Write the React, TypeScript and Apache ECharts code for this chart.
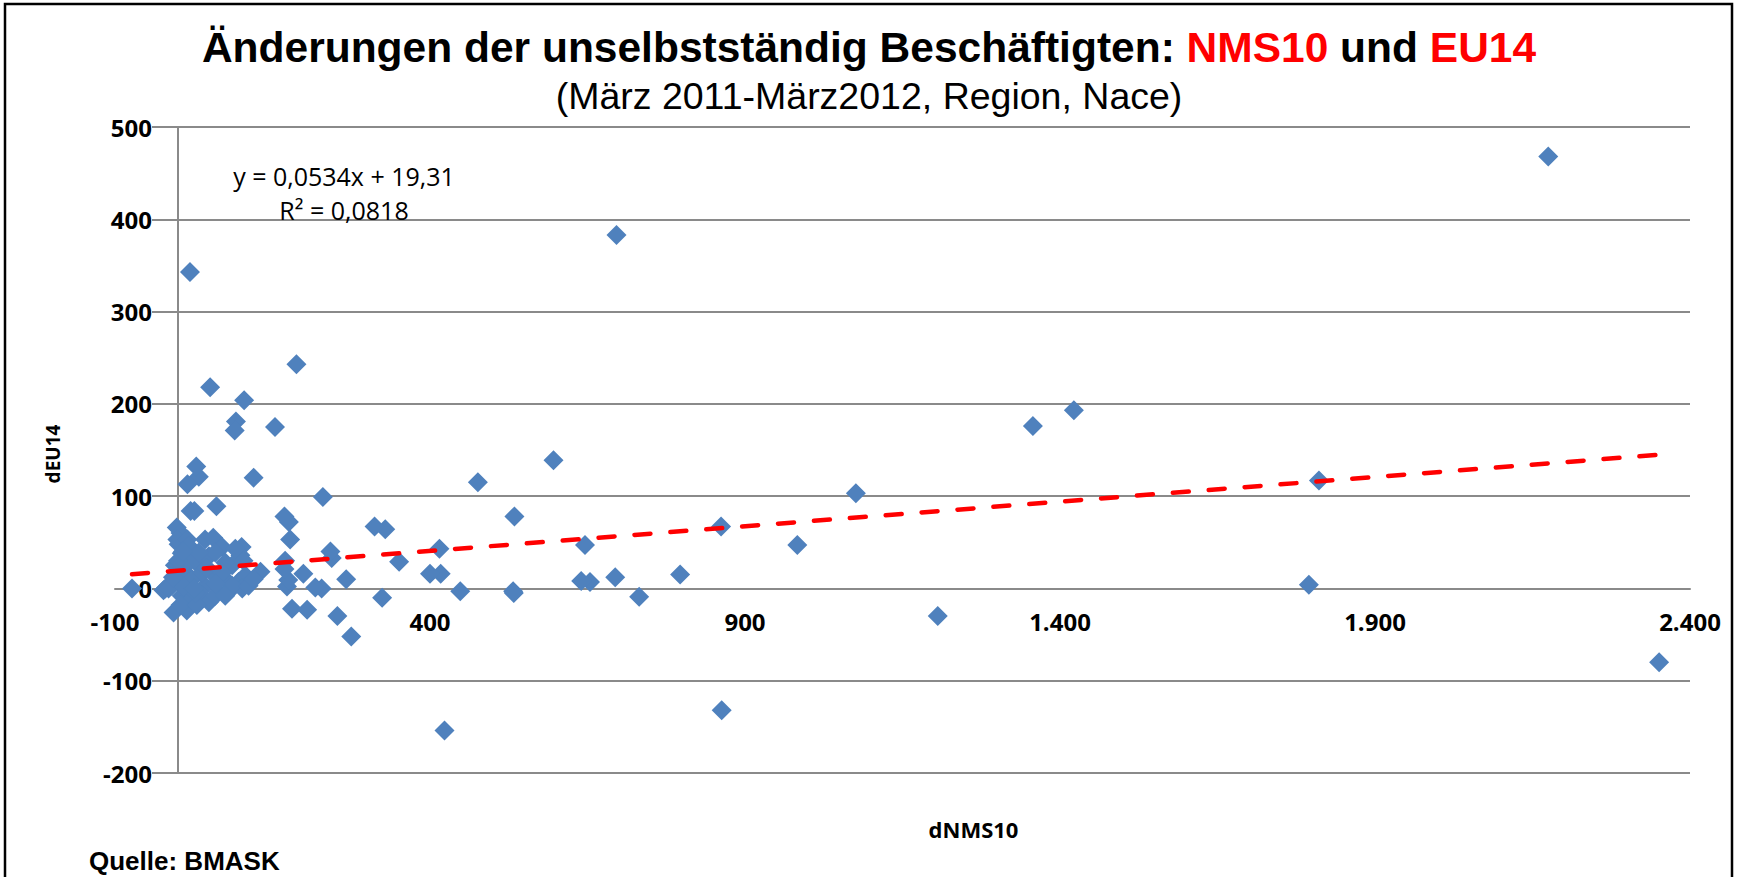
import React, { useEffect, useRef } from "react";
import * as echarts from "echarts";

// dNMS10 (x) and dEU14 (y) values
const dNMS10: number[] = [
  2175, 2351, 1811, 1795, 1422, 1357, 1206, 1076, 983, 862,
  863, 797, 732, 696, 694, 654, 640, 646, 596, 534,
  532, 533, 476, 448, 423, 417, 400, 415, 351, 329,
  312, 324, 275, 267, 253, 244, 242, 230, 228, 218,
  205, 199, 188, 181, 178, 176, 169, 173, 175, 170,
  169, 154, 131, 120, 105, 92, 90, 51, 61, 33,
  29, 15, 19, 20, 26, -73, -23, -7, 14, -2,
  1, 43, 56, 70, 101, 99, 6, 22, -20,
  12, 22, 33, 43, 54, 64, 75, 86, 96, 107,
  1, 6, 22, 38, 49, 59, 80, 102, 17, 27,
  49, 59, 75, 91, 104, -10, -5, -15, 4, 30,
  4, -1, 15, 17, 33, 38, 70, 86, 112, 75,
  28, 10, 60, 45, 120, -8, 0, 8, 25,
];
const dEU14: number[] = [
  468, -80, 117, 4, 193, 176, -30, 103, 47, 67,
  -132, 15, -9, 383, 12, 7, 8, 47, 139, 78,
  -3, -5, 115, -3, -154, 16, 16, 43, 29, 64,
  67, -10, -52, 10, -30, 33, 40, 99, 0, 1,
  -23, 16, 243, -22, 53, 72, 78, 2, 9, 30,
  21, 175, 18, 120, 204, 181, 171, 218, 89, 121,
  132, 113, 343, 84, 84, 0, -2, -26, -24, 66,
  48, 53, 55, 45, 45, 36, 38, 42, 0,
  17, 10, 25, 3, 17, -4, 10, 25, 7, 14,
  7, -8, -11, -8, -15, -8, -4, 0, 28, 32,
  35, 39, 28, 43, 30, 3, 25, 0, -18, -18,
  60, 53, 53, 46, 39, 17, 17, 3, 3, -8,
  -5, 2, 5, 22, 10, 12, 30, 40, 0,
];

const xTickValues: number[] = [-100, 400, 900, 1400, 1900, 2400];
const X_MIN = -100;
const X_MAX = 2400;
const Y_MIN = -200;
const Y_MAX = 500;
const Y_STEP = 100;

// Excel linear trendline as printed on the chart
const TREND_SLOPE = 0.0534;
const TREND_INTERCEPT = 19.31;
const equationText = "y = 0,0534x + 19,31";
const r2Text = "R² = 0,0818";

const titleLead = "Änderungen der unselbstständig Beschäftigten: ";
const titleRed1 = "NMS10";
const titleMid = " und ";
const titleRed2 = "EU14";
const subtitle = "(März 2011-März2012, Region, Nace)";
const sourceText = "Quelle: BMASK";
const xName = "dNMS10";
const yName = "dEU14";

const fmtDe = (v: number) =>
  String(v).replace(/\B(?=(\d{3})+(?!\d))/g, ".");

const CHART_W = 1738;
const CHART_H = 877;
const GRID_LEFT = 115;
const GRID_RIGHT = 48;
const GRID_TOP = 127;
const GRID_BOTTOM = 104;

export default function App() {
  const ref = useRef<HTMLDivElement>(null);

  useEffect(() => {
    if (!ref.current) return;
    const chart = echarts.init(ref.current, undefined, { renderer: "svg" });

    const points = dNMS10.map((x, i) => [x, dEU14[i]]);
    const xMin = Math.min(...dNMS10);
    const xMax = Math.max(...dNMS10);
    const trend = [
      [xMin, TREND_SLOPE * xMin + TREND_INTERCEPT],
      [xMax, TREND_SLOPE * xMax + TREND_INTERCEPT],
    ];

    // the axes cross at (0, 0) as in the Excel chart
    const plotW = CHART_W - GRID_LEFT - GRID_RIGHT;
    const plotH = CHART_H - GRID_TOP - GRID_BOTTOM;
    const xZeroOffset = (plotW * (0 - X_MIN)) / (X_MAX - X_MIN);
    const yZeroOffset = (plotH * (0 - Y_MIN)) / (Y_MAX - Y_MIN);

    const grid = "#8A8A8A";
    const labelFont = {
      fontFamily: "Open Sans",
      fontWeight: "bold" as const,
      fontSize: 24,
      color: "#000",
    };

    chart.setOption({
      animation: false,
      backgroundColor: "#fff",
      title: [
        {
          text: `{b|${titleLead}}{r|${titleRed1}}{b|${titleMid}}{r|${titleRed2}}`,
          left: "center",
          top: 21,
          textStyle: {
            rich: {
              b: { fontFamily: "Liberation Sans", fontWeight: "bold", fontSize: 42.5, color: "#000" },
              r: { fontFamily: "Liberation Sans", fontWeight: "bold", fontSize: 42.5, color: "#FF0000" },
            },
          },
        },
        {
          text: subtitle,
          left: "center",
          top: 72,
          textStyle: { fontFamily: "Liberation Sans", fontWeight: "normal", fontSize: 37.5, color: "#000" },
        },
        {
          text: sourceText,
          left: 84,
          top: 843,
          textStyle: { fontFamily: "Liberation Sans", fontWeight: "bold", fontSize: 26, color: "#000" },
        },
      ],
      grid: {
        left: GRID_LEFT,
        right: GRID_RIGHT,
        top: GRID_TOP,
        bottom: GRID_BOTTOM,
        containLabel: false,
        outerBoundsMode: "none",
      },
      xAxis: {
        type: "value",
        min: X_MIN,
        max: X_MAX,
        offset: -yZeroOffset,
        axisLine: { onZero: false, lineStyle: { color: grid, width: 2 } },
        axisTick: { show: false },
        splitLine: { show: false },
        axisLabel: {
          ...labelFont,
          customValues: xTickValues,
          formatter: (v: number) => fmtDe(v),
          margin: 21,
        },
        name: xName,
        nameLocation: "middle",
        nameGap: 230,
        nameMoveOverlap: false,
        nameTextStyle: {
          fontFamily: "Open Sans",
          fontWeight: "bold",
          fontSize: 22,
          color: "#000",
          padding: [0, 0, 0, 142],
        },
      },
      yAxis: {
        type: "value",
        min: Y_MIN,
        max: Y_MAX,
        interval: Y_STEP,
        offset: -xZeroOffset,
        axisLine: { onZero: false, lineStyle: { color: grid, width: 2 } },
        axisTick: { show: false },
        splitLine: { show: true, lineStyle: { color: grid, width: 2 } },
        axisLabel: {
          ...labelFont,
          margin: 26,
          backgroundColor: "#fff",
        },
        name: yName,
        nameLocation: "middle",
        nameRotate: 90,
        nameGap: 116,
        nameMoveOverlap: false,
        nameTextStyle: {
          fontFamily: "Open Sans",
          fontWeight: "bold",
          fontSize: 19,
          color: "#000",
          padding: [0, 8, 0, 0],
        },
      },
      series: [
        {
          type: "scatter",
          data: points,
          symbol: "diamond",
          symbolSize: 20,
          itemStyle: { color: "#4F81BD", opacity: 1 },
          z: 2,
        },
        {
          type: "line",
          data: trend,
          showSymbol: false,
          symbol: "none",
          silent: true,
          lineStyle: { color: "#FF0000", width: 4.5, type: [16, 20], cap: "round" },
          z: 3,
        },
      ],
      graphic: [
        {
          type: "rect",
          silent: true,
          z: 100,
          shape: { x: 5, y: 4, width: 1727, height: 900 },
          style: { fill: "none", stroke: "#000", lineWidth: 2.5 },
        },
        {
          type: "text",
          x: 344,
          y: 176,
          z: 100,
          style: {
            text: equationText,
            fontFamily: "Open Sans",
            fontSize: 25,
            fill: "#000",
            align: "center",
            verticalAlign: "middle",
          },
        },
        {
          type: "text",
          x: 344,
          y: 210,
          z: 100,
          style: {
            text: r2Text,
            fontFamily: "Open Sans",
            fontSize: 25,
            fill: "#000",
            align: "center",
            verticalAlign: "middle",
          },
        },
      ],
    });

    return () => chart.dispose();
  }, []);

  return (
    <div
      ref={ref}
      style={{ position: "fixed", left: 0, top: 0, width: CHART_W, height: CHART_H, background: "#fff" }}
    />
  );
}
